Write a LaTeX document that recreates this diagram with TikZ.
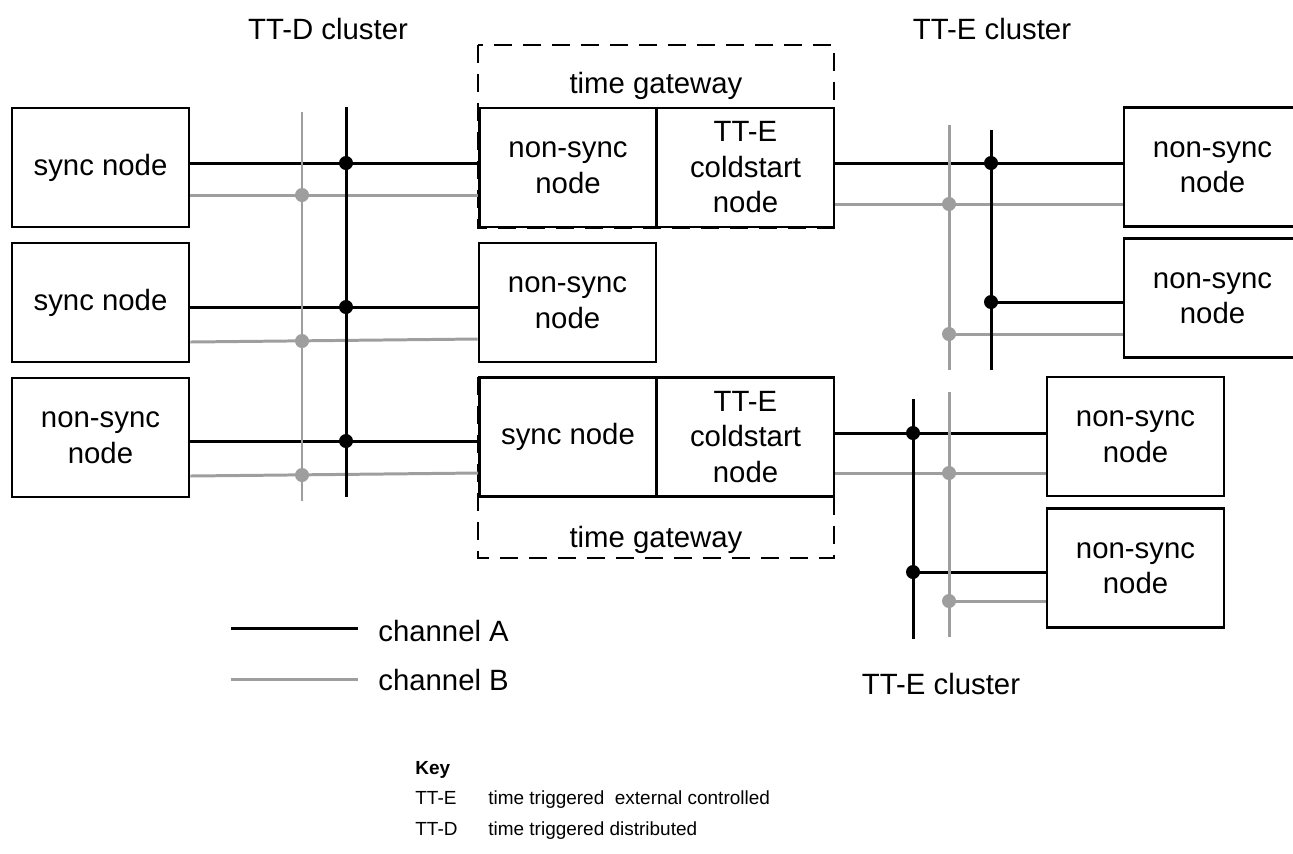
\documentclass[tikz,border=0pt]{standalone}
\usepackage{fontspec}
\setmainfont{Liberation Sans}
\definecolor{chGrey}{HTML}{9E9E9E}

\begin{document}
\begin{tikzpicture}[x=0.02cm,y=-0.02cm,
  unit/.style={draw,line width=1.5pt,minimum width=3.54cm,minimum height=2.38cm,inner sep=0pt,align=center,font=\fontsize{16.7}{20.2}\selectfont},
  gate/.style={draw,line width=1.5pt,dash pattern=on 0.36cm off 0.22cm},
  lbl/.style={font=\fontsize{16.7}{20.2}\selectfont,inner sep=0pt,anchor=base},
  keytxt/.style={font=\fontsize{10.8}{13}\selectfont,inner sep=0pt,anchor=base west},
  chA/.style={line width=1.7pt,black},
  chB/.style={line width=1.7pt,chGrey}]

\useasboundingbox (0,0) rectangle (1293,853);

% cluster labels
\node[lbl] (ttd) at (328,39) {TT-D cluster};
\node[lbl] (tte1) at (992,39) {TT-E cluster};
\node[lbl] (tte2) at (941,694) {TT-E cluster};

% time gateways
\draw[gate] (478,45) rectangle (834,228);
\node[lbl] (tg1) at (656,93) {time gateway};
\draw[gate] (478,377) rectangle (834,558);
\node[lbl] (tg2) at (656,547) {time gateway};

% nodes
\node[unit] (s1) at (100.5,167.5) {sync node};
\node[unit] (s2) at (100.5,302.5) {sync node};
\node[unit] (s3) at (100.5,437.5) {non-sync\\node};

\node[unit] (gw1a) at (568,167.5) {non-sync\\node};
\node[unit] (gw1b) at (745.5,167.5) {TT-E\\coldstart\\node};
\node[unit] (nsm) at (567.5,302.5) {non-sync\\node};
\node[unit] (gw2a) at (568,437) {sync node};
\node[unit] (gw2b) at (745.5,437) {TT-E\\coldstart\\node};

\node[unit] (r1) at (1212.5,167) {non-sync\\node};
\node[unit] (r2) at (1212.5,298) {non-sync\\node};
\node[unit] (r3) at (1135.5,436.5) {non-sync\\node};
\node[unit] (r4) at (1135.5,568) {non-sync\\node};

% junctions
\coordinate (jA1) at (346,163);
\coordinate (jA2) at (346,307);
\coordinate (jA3) at (346,441);
\coordinate (jB1) at (302,195);
\coordinate (jB2) at (302,341);
\coordinate (jB3) at (302,475);
\coordinate (jA4) at (991,163);
\coordinate (jA5) at (991,302);
\coordinate (jB4) at (949,204);
\coordinate (jB5) at (949,334);
\coordinate (jA6) at (913,433);
\coordinate (jA7) at (913,572);
\coordinate (jB6) at (949,473);
\coordinate (jB7) at (949,601);

% stubs
\draw[chA] (s1.east |- jA1) -- (gw1a.west |- jA1);
\draw[chB] (s1.east |- jB1) -- (gw1a.west |- jB1);
\draw[chA] (s2.east |- jA2) -- (nsm.west |- jA2);
\draw[chB] (s2.east |- 0,342) -- (nsm.west |- 0,339);
\draw[chA] (s3.east |- jA3) -- (gw2a.west |- jA3);
\draw[chB] (s3.east |- 0,476) -- (gw2a.west |- 0,473);

\draw[chA] (gw1b.east |- jA4) -- (r1.west |- jA4);
\draw[chB] (gw1b.east |- jB4) -- (r1.west |- jB4);
\draw[chA] (jA5) -- (r2.west |- jA5);
\draw[chB] (jB5) -- (r2.west |- jB5);

\draw[chA] (gw2b.east |- jA6) -- (r3.west |- jA6);
\draw[chB] (gw2b.east |- jB6) -- (r3.west |- jB6);
\draw[chA] (jA7) -- (r4.west |- jA7);
\draw[chB] (jB7) -- (r4.west |- jB7);

% buses
\draw[chB] (302,112) -- (302,501);
\draw[chA] (346,107) -- (346,497);
\draw[chB] (949,125) -- (949,370);
\draw[chA] (991,130) -- (991,370);
\draw[chB] (949,392) -- (949,637);
\draw[chA] (913,399) -- (913,639);

\foreach \j in {jA1,jA2,jA3,jA4,jA5,jA6,jA7}
  \fill[black] (\j) circle (0.14cm);
\foreach \j in {jB1,jB2,jB3,jB4,jB5,jB6,jB7}
  \fill[chGrey] (\j) circle (0.14cm);

% legend
\coordinate (legA) at (231,628);
\coordinate (legB) at (231,679);
\draw[chA] (legA) -- ++(127,0);
\draw[chB] (legB) -- ++(127,0);
\node[lbl,anchor=base west] (chAtxt) at (378,641) {channel A};
\node[lbl,anchor=base west] (chBtxt) at (378,690) {channel B};

% key
\node[keytxt] (key) at (415,774) {\bfseries Key};
\node[keytxt] (keyE) at (415,804) {TT-E};
\node[keytxt] (keyEtxt) at (488,804) {time triggered\ \ external controlled};
\node[keytxt] (keyD) at (415,835) {TT-D};
\node[keytxt] (keyDtxt) at (488,835) {time triggered distributed};

\end{tikzpicture}
\end{document}
